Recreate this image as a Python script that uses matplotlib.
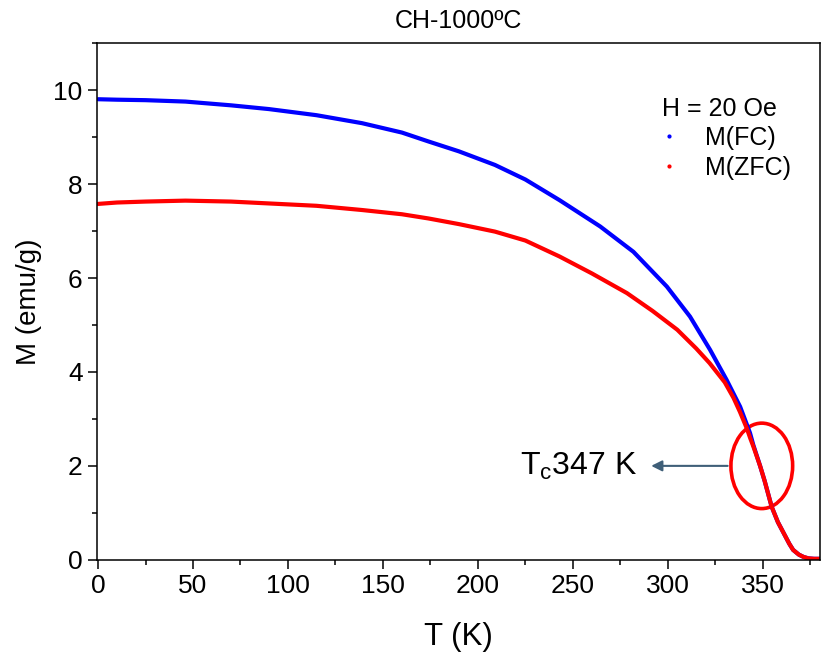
import matplotlib
matplotlib.use('Agg')
import matplotlib.pyplot as plt
from matplotlib.patches import Ellipse
from matplotlib.lines import Line2D
from matplotlib.ticker import MultipleLocator

plt.rcParams['font.family'] = ['Liberation Sans', 'DejaVu Sans']

# -----------------------
# Data
# -----------------------
T_fc = [0, 10, 25, 46, 70, 90, 115, 139, 160, 174, 190, 209, 225, 243, 264.4,
        281.9, 299.5, 311.7, 322.3, 331, 338.1, 343.3, 345, 348.6,
        351, 354.7, 358, 361, 364, 366, 369, 371.5, 374, 377, 380]
M_fc = [9.81, 9.80, 9.79, 9.76, 9.68, 9.60, 9.47, 9.30, 9.10, 8.91, 8.70, 8.41,
        8.10, 7.66, 7.10, 6.56, 5.82, 5.18, 4.47, 3.83, 3.26, 2.70,
        2.45, 2.00, 1.68, 1.13, 0.80, 0.57, 0.34, 0.21, 0.11, 0.06, 0.03,
        0.02, 0.02]

T_zfc = [0, 10, 25, 46, 70, 90, 115, 139, 160, 174, 190, 209, 225, 243, 260,
         278.5, 292, 305, 315, 322, 330, 334.6, 338, 341.6, 343.5, 345, 348.6,
         351, 354.7, 358, 361, 364, 366, 369, 371.5, 374, 377, 380]
M_zfc = [7.58, 7.61, 7.63, 7.65, 7.63, 7.59, 7.54, 7.45, 7.36, 7.27, 7.15, 6.99,
         6.80, 6.46, 6.10, 5.68, 5.30, 4.90, 4.50, 4.19, 3.78, 3.45, 3.15, 2.80,
         2.58, 2.42, 2.00, 1.68, 1.13, 0.80, 0.57, 0.34, 0.21, 0.11, 0.06, 0.03,
         0.02, 0.02]

Tc = 347
field_label = 'H = 20 Oe'

# -----------------------
# Figure
# -----------------------
fig = plt.figure(figsize=(8.23, 6.57), dpi=100)
ax = fig.add_axes([0.118, 0.148, 0.878, 0.786])

ax.plot(T_fc, M_fc, color='#0000ff', lw=3.0, solid_capstyle='round')
ax.plot(T_zfc, M_zfc, color='#ff0000', lw=3.0, solid_capstyle='round')

ax.set_xlim(-0.5, 380)
ax.set_ylim(0, 11)
ax.xaxis.set_major_locator(MultipleLocator(50))
ax.xaxis.set_minor_locator(MultipleLocator(25))
ax.yaxis.set_major_locator(MultipleLocator(2))
ax.yaxis.set_minor_locator(MultipleLocator(1))
ax.tick_params(which='major', direction='out', length=6.5, width=1.1,
               labelsize=19, pad=4)
ax.tick_params(which='minor', direction='out', length=3.5, width=1.1)
for s in ax.spines.values():
    s.set_linewidth(1.1)

ax.set_xlabel('T (K)', fontsize=22.5, labelpad=17)
ax.set_ylabel('M (emu/g)', fontsize=20, labelpad=8)
ax.set_title('CH-1000ºC', fontsize=18, pad=11)

# Tc marker
ax.add_patch(Ellipse((349.5, 2.0), 32.5, 1.82, fill=False,
                     edgecolor='#ff0000', lw=2.6))
ax.annotate('', xy=(289.8, 2.0), xytext=(333, 2.0),
            arrowprops=dict(arrowstyle='-|>', color='#3f5f78', lw=1.5,
                            mutation_scale=16))
ax.text(283.7, 2.0, r'T$_\mathregular{c}$' + f'{Tc} K', fontsize=23,
        ha='right', va='center')

# legend with dot markers
handles = [Line2D([], [], ls='none', marker='.', ms=4, color='#0000ff'),
           Line2D([], [], ls='none', marker='.', ms=4, color='#ff0000')]
leg = ax.legend(handles, ['M(FC)', 'M(ZFC)'], title=field_label,
                loc='upper left', bbox_to_anchor=(0.782, 0.897),
                frameon=False, fontsize=18, title_fontsize=18,
                alignment='left', borderpad=0, borderaxespad=0,
                handlelength=0.56, handletextpad=1.16, labelspacing=0.22)

fig.savefig('out.png', dpi=100)
